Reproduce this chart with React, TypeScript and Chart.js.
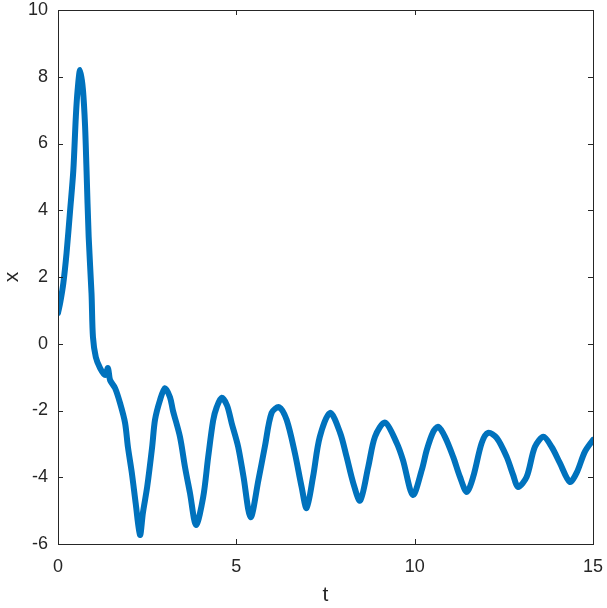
import React, { useEffect, useRef } from "react";
import { Chart, registerables } from "chart.js";

Chart.register(...registerables);

const tValues: number[] = [
  0, 0.06, 0.15, 0.24, 0.34, 0.43, 0.5, 0.55, 0.62, 0.7, 0.76, 0.8, 0.86, 0.94, 0.98,
  1.06, 1.18, 1.32, 1.4, 1.46, 1.6, 1.74, 1.88, 1.96, 2.07, 2.18, 2.3,
  2.38, 2.5, 2.64, 2.72, 2.86, 3.0, 3.14, 3.22, 3.42, 3.56, 3.7, 3.87,
  4.07, 4.21, 4.35, 4.45, 4.59, 4.74, 4.87, 5.05, 5.2, 5.4,
  5.62, 5.8, 5.99, 6.2, 6.41, 6.64, 6.83, 6.97,
  7.15, 7.34, 7.63, 7.91, 8.09, 8.28, 8.47,
  8.7, 8.89, 9.17, 9.5, 9.67, 9.95,
  10.2, 10.34, 10.52, 10.66, 10.85, 11.08, 11.27, 11.46,
  11.64, 11.88, 12.06, 12.3, 12.58, 12.76, 12.9,
  13.14, 13.37, 13.61, 13.84, 14.07, 14.35,
  14.54, 14.77, 15.0,
];

const xValues: number[] = [
  0.92, 1.22, 1.82, 2.72, 4.0, 5.2, 6.8, 7.6, 8.2, 7.6, 6.5, 5.2, 3.2, 1.5, 0.2,
  -0.4, -0.73, -0.94, -0.73, -1.09, -1.33, -1.78, -2.37, -3.09, -3.87, -4.8, -5.73,
  -5.07, -4.29, -3.09, -2.28, -1.69, -1.33, -1.6, -1.99, -2.79, -3.69, -4.47, -5.43,
  -4.6, -3.4, -2.3, -1.9, -1.62, -1.85, -2.38, -3.08, -3.98, -5.2,
  -4.08, -3.08, -2.07, -1.9, -2.28, -3.27, -4.29, -4.92,
  -3.99, -2.79, -2.07, -2.67, -3.38, -4.18, -4.7,
  -3.68, -2.78, -2.36, -2.98, -3.48, -4.53,
  -3.78, -3.18, -2.64, -2.49, -2.79, -3.39, -3.99, -4.44,
  -3.99, -2.97, -2.67, -2.82, -3.39, -3.93, -4.29,
  -3.99, -3.09, -2.79, -3.09, -3.57, -4.14,
  -3.87, -3.24, -2.88,
];

const xTicks: number[] = [0, 5, 10, 15];
const yTicks: number[] = [-6, -4, -2, 0, 2, 4, 6, 8, 10];

const AXIS_COLOR = "#262626";
const LINE_COLOR = "#0072BD";
const FONT = "'Liberation Sans', Arial, sans-serif";

const boxTicksPlugin = {
  id: "boxTicks",
  afterDraw(chart: any) {
    const { ctx, chartArea } = chart;
    const xs = chart.scales.x;
    const ys = chart.scales.y;
    const len = 5;
    ctx.save();
    ctx.strokeStyle = AXIS_COLOR;
    ctx.lineWidth = 1;
    ctx.beginPath();
    for (const v of xTicks) {
      const px = Math.round(xs.getPixelForValue(v)) + 0.5;
      ctx.moveTo(px, chartArea.bottom);
      ctx.lineTo(px, chartArea.bottom - len);
      ctx.moveTo(px, chartArea.top);
      ctx.lineTo(px, chartArea.top + len);
    }
    for (const v of yTicks) {
      const py = Math.round(ys.getPixelForValue(v)) + 0.5;
      ctx.moveTo(chartArea.left, py);
      ctx.lineTo(chartArea.left + len, py);
      ctx.moveTo(chartArea.right, py);
      ctx.lineTo(chartArea.right - len, py);
    }
    ctx.stroke();
    ctx.strokeRect(
      Math.round(chartArea.left) + 0.5,
      Math.round(chartArea.top) + 0.5,
      Math.round(chartArea.right - chartArea.left),
      Math.round(chartArea.bottom - chartArea.top)
    );
    ctx.restore();
  },
};

export default function App() {
  const canvasRef = useRef<HTMLCanvasElement | null>(null);

  useEffect(() => {
    document.body.style.margin = "0";
    const canvas = canvasRef.current;
    if (!canvas) return;
    const chart = new Chart(canvas, {
      type: "line",
      data: {
        datasets: [
          {
            data: tValues.map((t, i) => ({ x: t, y: xValues[i] })),
            borderColor: LINE_COLOR,
            borderWidth: 6,
            pointRadius: 0,
            fill: false,
            tension: 0.3,
            borderJoinStyle: "round",
            borderCapStyle: "round",
          },
        ],
      },
      options: {
        animation: false,
        responsive: false,
        maintainAspectRatio: false,
        layout: { padding: { top: 10, right: 14, left: 0, bottom: 0 } },
        plugins: {
          legend: { display: false },
          tooltip: { enabled: false },
        },
        scales: {
          x: {
            type: "linear",
            min: 0,
            max: 15,
            afterFit: (s: any) => {
              s.height = 64;
              s.paddingLeft = 0;
              s.paddingRight = 0;
            },
            afterBuildTicks: (s: any) => {
              s.ticks = xTicks.map((v) => ({ value: v }));
            },
            grid: { display: false, drawTicks: false },
            border: { display: false },
            ticks: {
              color: AXIS_COLOR,
              font: { family: FONT, size: 18 },
              padding: 12,
              maxRotation: 0,
            },
            title: {
              display: true,
              text: "t",
              color: AXIS_COLOR,
              font: { family: FONT, size: 21 },
              padding: { top: 4, bottom: 0 },
            },
          },
          y: {
            type: "linear",
            min: -6,
            max: 10,
            afterFit: (s: any) => {
              s.width = 58;
              s.paddingTop = 0;
              s.paddingBottom = 0;
            },
            afterBuildTicks: (s: any) => {
              s.ticks = yTicks.map((v) => ({ value: v }));
            },
            grid: { display: false, drawTicks: false },
            border: { display: false },
            ticks: {
              color: AXIS_COLOR,
              font: { family: FONT, size: 18 },
              padding: 10,
            },
            title: {
              display: true,
              text: "x",
              color: AXIS_COLOR,
              font: { family: FONT, size: 21 },
              padding: { top: 0, bottom: 0 },
            },
          },
        },
      },
      plugins: [boxTicksPlugin],
    });
    return () => chart.destroy();
  }, []);

  return (
    <div style={{ position: "fixed", left: 0, top: 0, width: 607, height: 608, background: "#fff" }}>
      <canvas ref={canvasRef} width={607} height={608} style={{ width: 607, height: 608 }} />
    </div>
  );
}
